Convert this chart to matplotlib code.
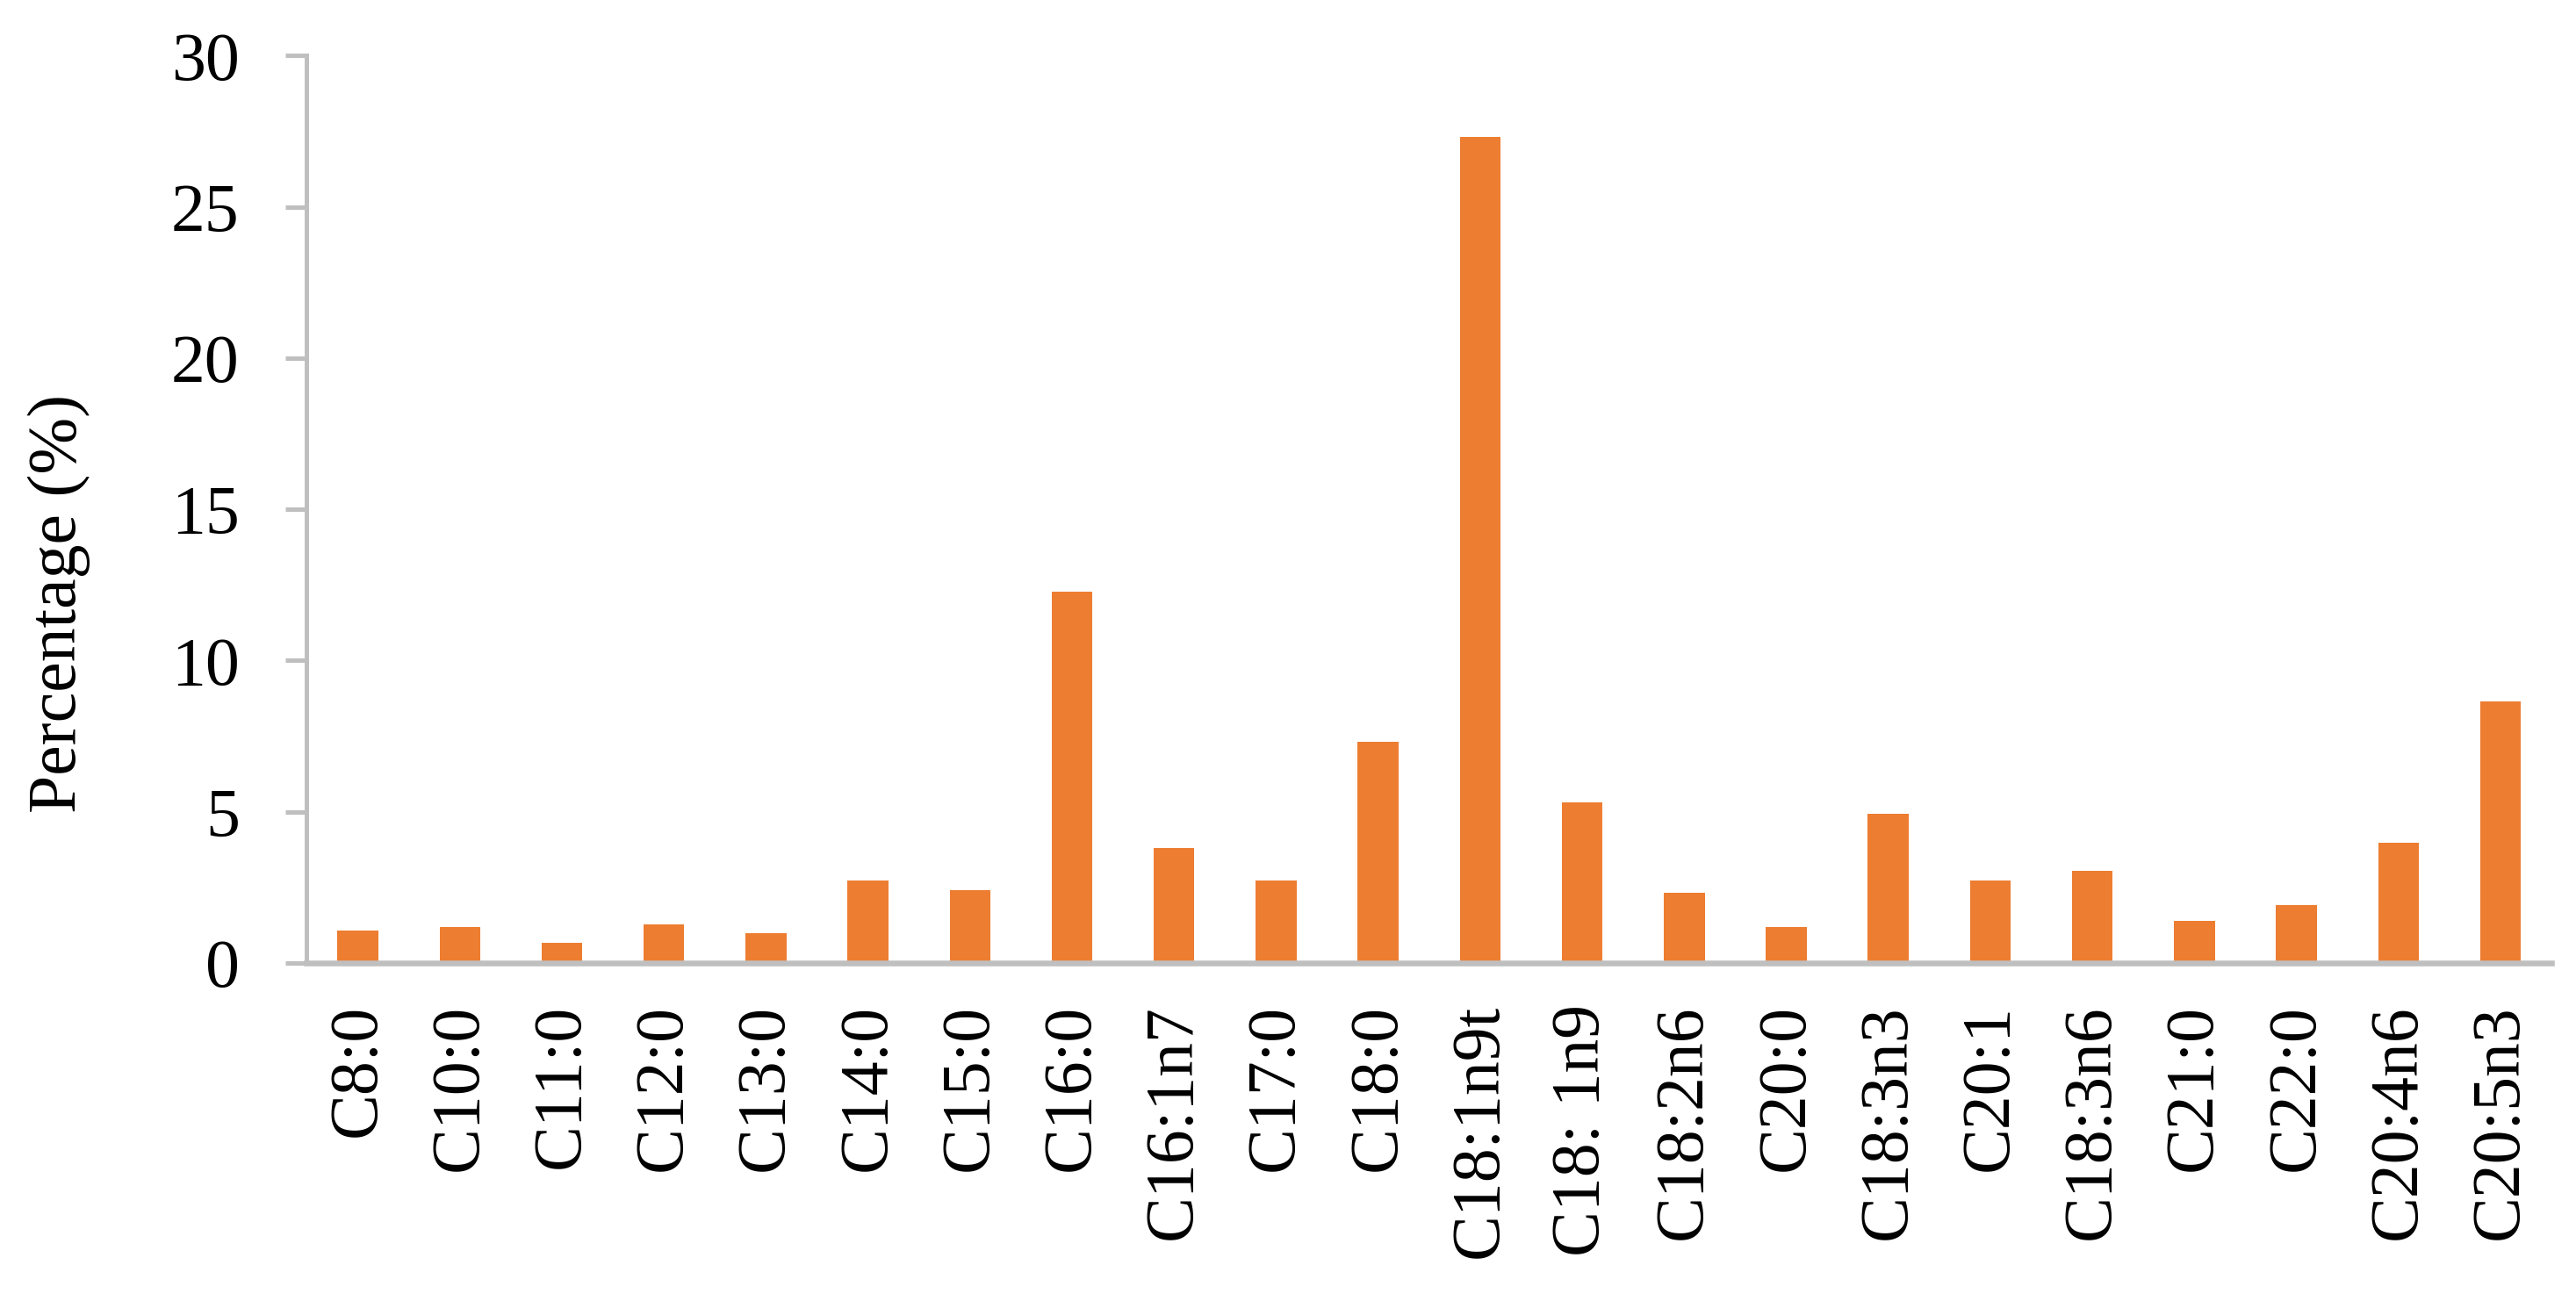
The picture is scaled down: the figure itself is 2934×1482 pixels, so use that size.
import numpy as np
import matplotlib
matplotlib.use('Agg')
import matplotlib.pyplot as plt

acids = ['C8:0', 'C10:0', 'C11:0', 'C12:0', 'C13:0', 'C14:0', 'C15:0', 'C16:0',
         'C16:1n7', 'C17:0', 'C18:0', 'C18:1n9t', 'C18: 1n9', 'C18:2n6', 'C20:0',
         'C18:3n3', 'C20:1', 'C18:3n6', 'C21:0', 'C22:0', 'C20:4n6', 'C20:5n3']
percentage = [1.08, 1.18, 0.67, 1.29, 1.0, 2.74, 2.42, 12.29,
              3.79, 2.74, 7.3, 27.32, 5.32, 2.32, 1.19,
              4.92, 2.74, 3.04, 1.4, 1.91, 3.98, 8.66]
y_ticks = [0, 5, 10, 15, 20, 25, 30]

ORANGE = '#ED7D31'
GREY = '#BFBFBF'

plt.rcParams['font.family'] = ['Liberation Serif', 'DejaVu Serif']

fig = plt.figure(figsize=(29.34, 14.82), dpi=100)
ax = fig.add_axes([0.1191, 0.2598, 0.8714, 0.6974])

x = np.arange(len(acids))
ax.bar(x, percentage, width=0.4, color=ORANGE, zorder=1)

ax.set_xlim(-0.5, len(acids) - 0.5)
ax.set_ylim(0, 30)
ax.set_yticks(y_ticks)
ax.set_yticklabels([str(t) for t in y_ticks])
ax.set_xticks(x)
ax.set_xticklabels(acids, rotation=90, va='top', ha='center')

for side in ['top', 'right']:
    ax.spines[side].set_visible(False)
ax.spines['left'].set_color(GREY)
ax.spines['left'].set_linewidth(3.6)
ax.spines['bottom'].set_color(GREY)
ax.spines['bottom'].set_linewidth(4.7)

ax.tick_params(axis='y', length=17.3, width=3.6, color=GREY, pad=38,
               labelsize=56, labelcolor='black')
ax.tick_params(axis='x', length=0, pad=34, labelsize=56, labelcolor='black')

fig.text(67 / 2934, 1 - 687 / 1482, 'Percentage (%)', rotation=90,
         ha='center', va='center', fontsize=56)

fig.savefig('out.png', dpi=100, facecolor='white')
